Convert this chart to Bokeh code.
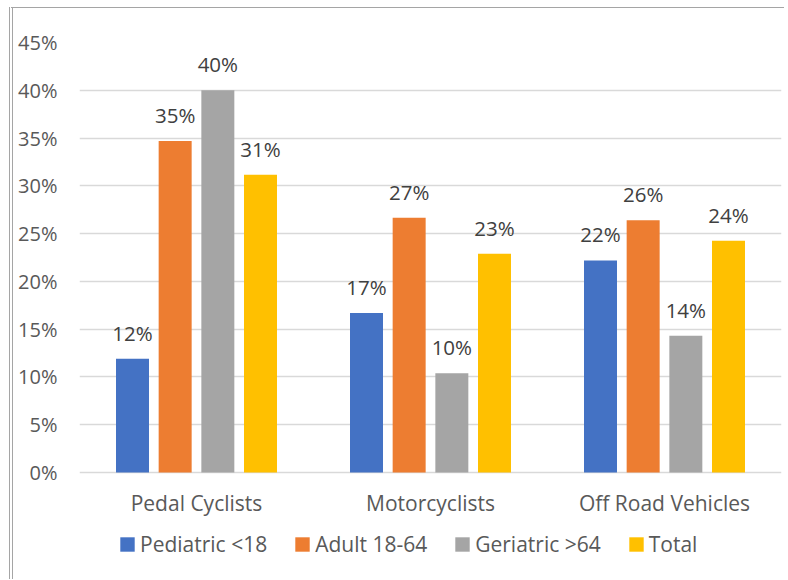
from bokeh.plotting import figure
from bokeh.models import (ColumnDataSource, FactorRange, Range1d, FixedTicker,
                          NumeralTickFormatter, Legend, LegendItem)
from bokeh.transform import dodge
from bokeh.core.properties import value
from bokeh.embed import file_html
from bokeh.resources import INLINE

categories = ["Pedal Cyclists", "Motorcyclists", "Off Road Vehicles"]
series_names = ["Pediatric <18", "Adult 18-64", "Geriatric >64", "Total"]
pediatric = [0.119, 0.167, 0.222]
adult = [0.347, 0.2665, 0.264]
geriatric = [0.400, 0.104, 0.143]
total = [0.3115, 0.229, 0.2425]
colors = ["#4472C4", "#ED7D31", "#A5A5A5", "#FFC000"]
y_ticks = [0, 0.05, 0.10, 0.15, 0.20, 0.25, 0.30, 0.35, 0.40, 0.45]

series = [pediatric, adult, geriatric, total]
data = {"cat": categories, "base": [0, 0, 0]}
for i, s in enumerate(series):
    data[f"s{i}"] = s
    data[f"l{i}"] = [f"{round(v * 100)}%" for v in s]
source = ColumnDataSource(data)

FONT = "Open Sans"
# frame spans from the 45% line down to the bottom of the canvas;
# the region below 0 holds the category labels and the legend
p = figure(width=775, height=572, x_range=FactorRange(*categories),
           y_range=Range1d(-0.1130, 0.45), output_backend="svg", toolbar_location=None,
           min_border_left=66, min_border_right=7, min_border_top=34,
           min_border_bottom=0)
p.styles = {"margin-left": "9px", "margin-top": "7px",
            "border-left": "4px double #A5A5A5", "border-top": "1px solid #A5A5A5"}

offsets = [-0.2735, -0.0912, 0.0912, 0.2735]
items = []
for i in range(4):
    r = p.vbar(x=dodge("cat", offsets[i], range=p.x_range), top=f"s{i}", width=0.141,
               source=source, fill_color=colors[i], line_color=None)
    p.text(x=dodge("cat", offsets[i], range=p.x_range), y=f"s{i}", text=f"l{i}",
           source=source, text_align="center", text_baseline="alphabetic",
           y_offset=-26, text_font=value(FONT), text_font_size=value("20.5px"),
           text_color="#404040")
    items.append(LegendItem(label=series_names[i], renderers=[r]))

# category labels under the zero line
p.text(x="cat", y="base", text="cat", source=source, text_align="center",
       text_baseline="alphabetic", y_offset=30, text_font=value(FONT),
       text_font_size=value("21px"), text_color="#595959")

legend = Legend(items=items, orientation="horizontal", location=(39, 22),
                padding=0, margin=0, spacing=26, label_standoff=4,
                glyph_width=18, glyph_height=18, border_line_color=None,
                background_fill_alpha=0, label_text_font=FONT,
                label_text_font_size="21px", label_text_color="#595959")
p.add_layout(legend, "center")

p.outline_line_color = None
p.xaxis.visible = False
p.xgrid.grid_line_color = None
p.ygrid.grid_line_color = "#D9D9D9"
p.ygrid.grid_line_width = 1.5
p.ygrid.ticker = FixedTicker(ticks=y_ticks)
p.yaxis.ticker = FixedTicker(ticks=y_ticks)
p.yaxis.formatter = NumeralTickFormatter(format="0%")
ax = p.yaxis
ax.axis_line_color = None
ax.major_tick_line_color = None
ax.minor_tick_line_color = None
ax.major_tick_out = 0
ax.major_tick_in = 0
ax.minor_tick_out = 0
ax.major_label_text_font = FONT
ax.major_label_text_color = "#595959"
ax.major_label_text_font_size = "20px"
ax.major_label_standoff = 22
p.x_range.range_padding = 0
p.x_range.group_padding = 0

open("out.html", "w").write(file_html(p, INLINE))
